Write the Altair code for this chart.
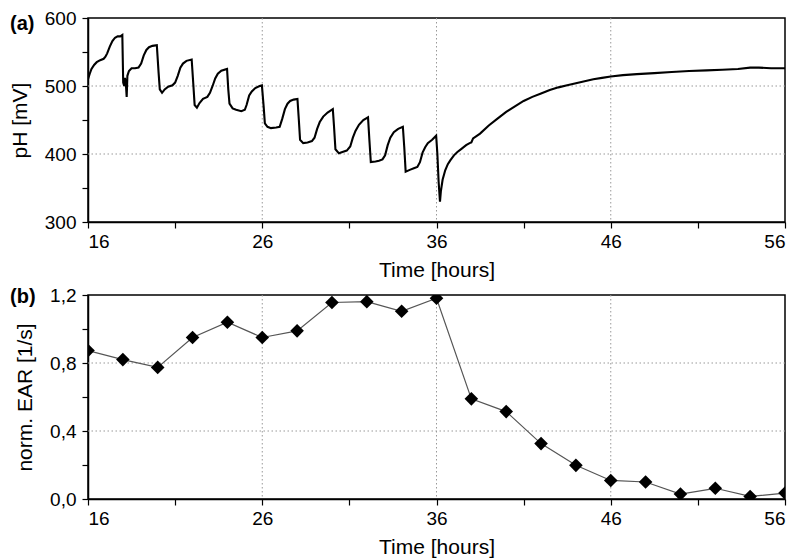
import altair as alt
import pandas as pd

# ---------------- data ----------------
ph_time = [
    16.0, 16.1, 16.2, 16.35, 16.5, 16.7, 16.9, 17.0, 17.1, 17.25, 17.4, 17.55, 17.7, 17.85, 17.97,
    18.02, 18.08, 18.12, 18.18, 18.22, 18.26, 18.35, 18.5, 18.7, 18.9,
    19.05, 19.2, 19.35, 19.5, 19.7, 19.95,
    20.05, 20.12, 20.25, 20.4, 20.6, 20.85,
    21.0, 21.15, 21.3, 21.45, 21.65, 21.95,
    22.05, 22.12, 22.25, 22.4, 22.6, 22.85,
    23.0, 23.15, 23.3, 23.45, 23.65, 23.98,
    24.05, 24.12, 24.3, 24.5, 24.8, 25.0,
    25.1, 25.25, 25.4, 25.6, 25.85, 25.98,
    26.08, 26.15, 26.3, 26.5, 26.8, 27.0,
    27.15, 27.3, 27.45, 27.6, 27.8, 28.02,
    28.1, 28.17, 28.35, 28.6, 28.85, 29.0,
    29.15, 29.3, 29.5, 29.75, 30.05,
    30.12, 30.2, 30.4, 30.6, 30.85, 31.05,
    31.2, 31.35, 31.55, 31.8, 32.07,
    32.15, 32.23, 32.5, 32.7, 32.9, 33.05,
    33.2, 33.35, 33.55, 33.8, 34.07,
    34.15, 34.23, 34.5, 34.7, 34.9, 35.05,
    35.2, 35.35, 35.5, 35.75, 35.98,
    36.05, 36.12, 36.2, 36.25, 36.35, 36.5, 36.65, 36.8, 37.0, 37.2, 37.45, 37.7, 37.9, 38.0, 38.1,
    38.5, 39.0, 39.5, 40.0, 40.5, 41.0, 41.5, 42.0, 42.5, 43.0, 43.5, 44.0, 44.5, 45.0, 45.5,
    46.0, 46.7, 47.5, 48.5, 49.5, 50.5, 51.5, 52.4, 53.3, 54.0, 54.5, 55.2, 56.0,
]
ph_mv = [
    510, 518, 525, 531, 535, 538, 540, 543, 548, 558, 566, 571, 573, 573, 575,
    505, 500, 512, 500, 484, 515, 522, 526, 526, 527,
    533, 545, 553, 557, 559, 560,
    520, 495, 490, 495, 499, 501,
    505, 515, 527, 533, 537, 539,
    500, 472, 468, 475, 481, 484,
    490, 500, 511, 518, 522.5, 525,
    495, 474, 467, 465, 463, 465,
    472, 486, 492, 497, 500, 501,
    470, 445, 440, 438, 439, 440,
    452, 466, 474, 478, 480, 481,
    450, 421, 416, 417, 419, 424,
    437, 447, 455, 461, 466,
    440, 407, 401, 403, 405, 411,
    424, 434, 443, 450, 454,
    420, 388, 389, 390, 392, 398,
    413, 424, 432, 437, 440,
    410, 374, 377, 379, 381, 388,
    402, 410, 416, 421, 427,
    400, 360, 330, 345, 362, 376, 385, 391, 398, 403, 408, 413, 416, 417, 423,
    430, 442, 452, 462, 470, 478, 484, 489, 494, 498, 501, 504, 507, 510, 512,
    514, 516, 517.5, 519, 520.5, 522, 523, 524, 525, 527, 527, 526, 526,
]
ear_time = [16, 18, 20, 22, 24, 26, 28, 30, 32, 34, 36, 38, 40, 42, 44, 46, 48, 50, 52, 54, 56]
ear_value = [0.873, 0.82, 0.774, 0.95, 1.04, 0.95, 0.989, 1.156, 1.161, 1.104, 1.181,
             0.589, 0.514, 0.326, 0.198, 0.109, 0.10, 0.029, 0.063, 0.015, 0.035]

x_ticks = [16, 21, 26, 31, 36, 41, 46, 51, 56]
x_grid = [26, 36, 46]
ph_ticks = [300, 350, 400, 450, 500, 550, 600]
ph_grid = [400, 500]
ear_ticks = [0.0, 0.2, 0.4, 0.6, 0.8, 1.0, 1.2]
ear_grid = [0.4, 0.8]
panel_labels = ["(a)", "(b)"]

FONT = "Liberation Sans, Arial, Helvetica, sans-serif"
W, H = 697, 204
GRID_DASH = [1.5, 2.5]
GRID_COLOR = "#999999"

ph_df = pd.DataFrame({"time": ph_time, "ph": ph_mv})
ear_df = pd.DataFrame({"time": ear_time, "ear": ear_value})

x_enc = alt.X("time:Q", scale=alt.Scale(domain=[16, 56], nice=False, zero=False),
              axis=alt.Axis(values=x_ticks, title="Time [hours]", grid=False,
                            labelExpr="datum.value % 10 == 6 ? datum.label : ''"))
ph_enc = alt.Y("ph:Q", scale=alt.Scale(domain=[300, 600], nice=False, zero=False),
               axis=alt.Axis(values=ph_ticks, title="pH [mV]", grid=False,
                             labelExpr="datum.value % 100 == 0 ? datum.label : ''"))
ear_enc = alt.Y("ear:Q", scale=alt.Scale(domain=[0, 1.2], nice=False, zero=False),
                axis=alt.Axis(values=ear_ticks, title="norm. EAR [1/s]", grid=False,
                              labelExpr="round(datum.value*10) % 4 == 0 ? replace(format(datum.value, '.1f'), '.', ',') : ''"))

# ---------------- panel (a) ----------------
a_xgrid = alt.Chart(pd.DataFrame({"time": x_grid})).mark_rule(
    color=GRID_COLOR, strokeWidth=1, strokeDash=GRID_DASH).encode(x=x_enc)
a_ygrid = alt.Chart(pd.DataFrame({"ph": ph_grid})).mark_rule(
    color=GRID_COLOR, strokeWidth=1, strokeDash=GRID_DASH).encode(y=ph_enc)
ph_line = alt.Chart(ph_df).mark_line(color="black", strokeWidth=2.1, clip=True).encode(
    x=x_enc, y=ph_enc)
a_label = alt.Chart(pd.DataFrame({"lab": [panel_labels[0]]})).mark_text(
    align="left", baseline="middle", fontSize=20, fontWeight="bold", font=FONT, color="black").encode(
    text="lab:N", x=alt.value(-78), y=alt.value(6))

panel_a = alt.layer(a_xgrid, a_ygrid, ph_line, a_label).properties(width=W, height=H)

# ---------------- panel (b) ----------------
b_xgrid = alt.Chart(pd.DataFrame({"time": x_grid})).mark_rule(
    color=GRID_COLOR, strokeWidth=1, strokeDash=GRID_DASH).encode(x=x_enc)
b_ygrid = alt.Chart(pd.DataFrame({"ear": ear_grid})).mark_rule(
    color=GRID_COLOR, strokeWidth=1, strokeDash=GRID_DASH).encode(y=ear_enc)
ear_line = alt.Chart(ear_df).mark_line(color="#555555", strokeWidth=1.2, clip=True).encode(
    x=x_enc, y=ear_enc)
ear_pts = alt.Chart(ear_df).mark_point(shape="diamond", filled=True, size=185, color="black",
                                       opacity=1, clip=True).encode(x=x_enc, y=ear_enc)
b_label = alt.Chart(pd.DataFrame({"lab": [panel_labels[1]]})).mark_text(
    align="left", baseline="middle", fontSize=20, fontWeight="bold", font=FONT, color="black").encode(
    text="lab:N", x=alt.value(-78), y=alt.value(2))

panel_b = alt.layer(b_xgrid, b_ygrid, ear_line, ear_pts, b_label).properties(width=W, height=H)

chart = alt.vconcat(panel_a, panel_b, spacing=4).properties(padding=0).configure_view(
    stroke="black", strokeWidth=1.5
).configure_axis(
    labelFont=FONT, titleFont=FONT, labelFontSize=19, titleFontSize=21,
    titleFontWeight="normal", labelColor="black", titleColor="black",
    tickColor="black", domainColor="black", tickSize=6, tickWidth=1.2,
    domainWidth=1.5, labelPadding=4,
).configure_axisX(titlePadding=8).configure_axisY(titlePadding=14, labelPadding=6)

chart.save("out.html", embed_options={"renderer": "svg", "actions": False})
